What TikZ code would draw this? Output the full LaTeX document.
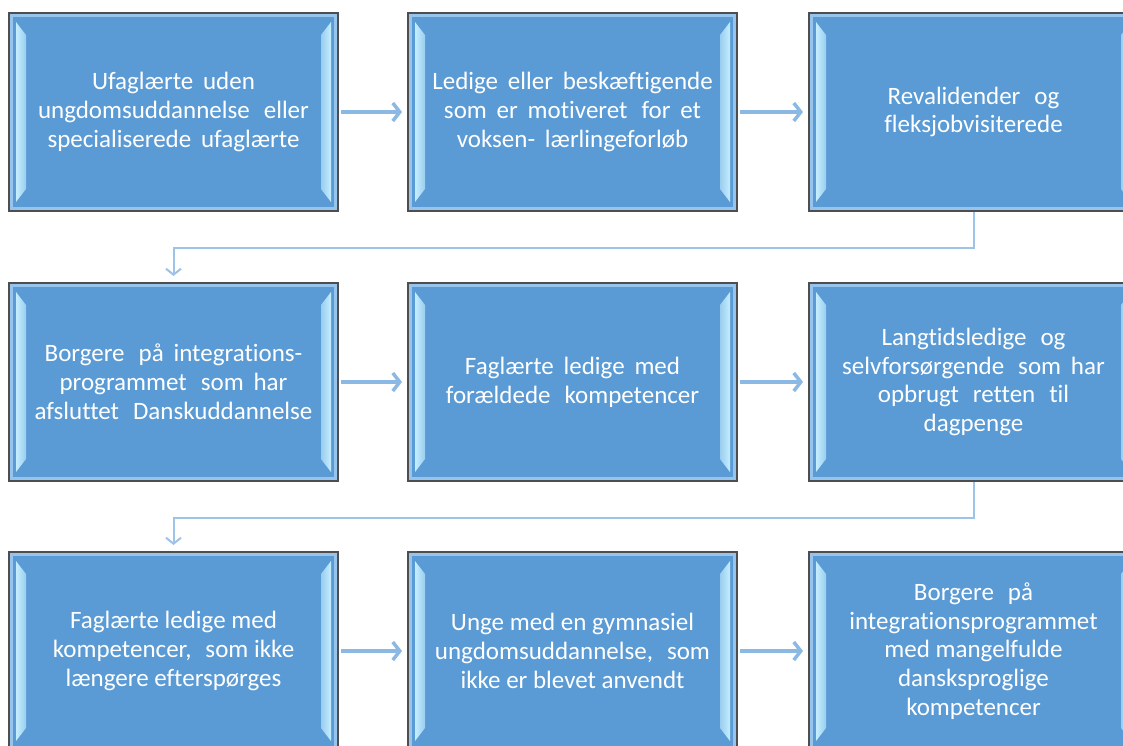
\documentclass[tikz,border=0pt]{standalone}
\usepackage{fontspec}
\setmainfont{Carlito}[Ligatures=NoCommon]
\usetikzlibrary{arrows.meta, calc, positioning}
\definecolor{boxblue}{RGB}{91,155,213}
\definecolor{boxedge}{RGB}{78,78,78}
\definecolor{rimblue}{RGB}{150,196,236}
\definecolor{glint}{RGB}{196,238,255}
\definecolor{linkblue}{RGB}{140,184,228}
\tikzstyle{group}=[rectangle, draw=boxedge, line width=2pt, fill=boxblue,
  minimum width=329pt, minimum height=198pt, inner sep=0pt,
  text=white, align=center, font=\fontsize{25}{28.8}\selectfont,
  path picture={
    \coordinate (nw) at (path picture bounding box.north west);
    \coordinate (se) at (path picture bounding box.south east);
    \draw[rimblue, line width=4pt] ($(nw)+(2pt,-2pt)$) rectangle ($(se)+(-2pt,2pt)$);
    \shade[left color=glint, middle color=white, right color=boxblue!40!glint]
      ($(nw)+(7pt,-9pt)$) -- ($(nw)+(17pt,-22pt)$) -- ($(nw|-se)+(17pt,22pt)$) -- ($(nw|-se)+(7pt,9pt)$) -- cycle;
    \shade[left color=boxblue!40!glint, middle color=white, right color=glint]
      ($(se|-nw)+(-7pt,-9pt)$) -- ($(se|-nw)+(-17pt,-22pt)$) -- ($(se)+(-17pt,22pt)$) -- ($(se)+(-7pt,9pt)$) -- cycle;
  }]
\tikzstyle{flow}=[draw=linkblue, line width=4pt, shorten <=2pt, shorten >=5pt,
  -{Straight Barb[length=7pt, width=18pt, line width=3.5pt]}]
\tikzstyle{turn}=[draw=linkblue!85!white, line width=2pt, shorten >=6pt,
  -{Straight Barb[length=6pt, width=15pt, line width=2pt]}]

\begin{document}
\begin{tikzpicture}
    \useasboundingbox (0,0) rectangle (1123pt,-745pt);

    % first row
    \node[group] (b1) at (173.5pt,-112pt) {Ufaglærte\, uden\\ungdomsuddannelse\,\, eller\\specialiserede\, ufaglærte};
    \node[group] (b2) [right=68pt of b1] {Ledige\, eller\, beskæftigende\\som\, er\, motiveret\,\, for\, et\\voksen-\, lærlingeforløb};
    \node[group] (b3) [right=70pt of b2] {Revalidender\,\, og\\fleksjobvisiterede};

    % second row
    \node[group] (b4) [below=70pt of b1] {Borgere\,\, på\, integrations-\\programmet\,\, som\, har\\afsluttet\,\, Danskuddannelse};
    \node[group] (b5) [right=68pt of b4] {Faglærte\, ledige\, med\\forældede\,\, kompetencer};
    \node[group] (b6) [right=70pt of b5] {Langtidsledige\,\, og\\selvforsørgende\,\, som\, har\\opbrugt\,\, retten\,\, til\\dagpenge};

    % third row
    \node[group] (b7) [below=69pt of b4] {Faglærte ledige med\\kompetencer,\,\, som ikke\\længere efterspørges};
    \node[group] (b8) [right=68pt of b7] {Unge med en gymnasiel\\ungdomsuddannelse,\,\, som\\ikke er blevet anvendt};
    \node[group] (b9) [right=70pt of b8] {Borgere\,\, på\\integrationsprogrammet\\med mangelfulde\\dansksproglige\\kompetencer};

    \draw[flow] (b1) -- (b2);
    \draw[flow] (b2) -- (b3);
    \draw[flow] (b4) -- (b5);
    \draw[flow] (b5) -- (b6);
    \draw[flow] (b7) -- (b8);
    \draw[flow] (b8) -- (b9);

    \draw[turn] (b3.south) -- ++(0,-36pt) -| (b4.north);
    \draw[turn] (b6.south) -- ++(0,-36pt) -| (b7.north);
\end{tikzpicture}
\end{document}
